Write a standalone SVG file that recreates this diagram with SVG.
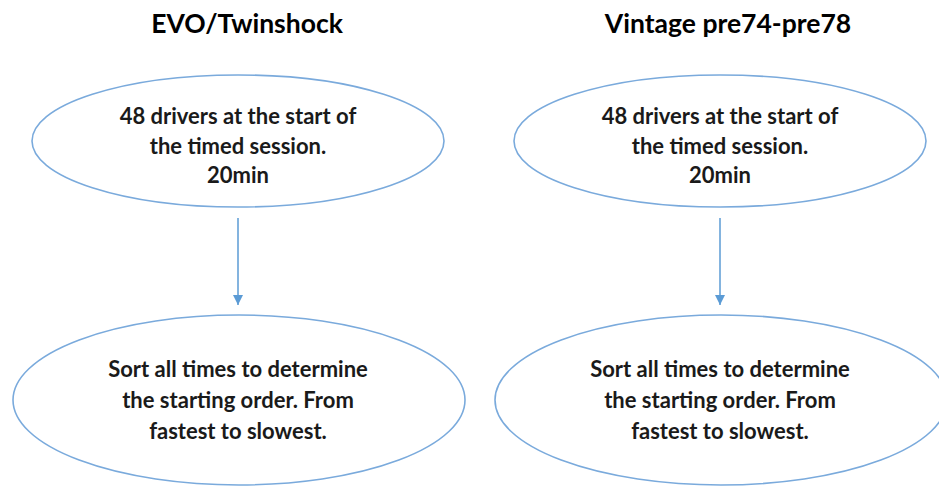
<svg xmlns="http://www.w3.org/2000/svg" width="939" height="486" viewBox="0 0 939 486">
<defs>
<marker id="ah" viewBox="0 0 10 10" refX="10" refY="5" markerWidth="10" markerHeight="10" markerUnits="userSpaceOnUse" orient="auto">
<path d="M0,0 L10,5 L0,10 z" fill="#5b9bd5"/>
</marker>
<style>
.node{fill:#ffffff;stroke:#7aaadc;stroke-width:1.6}
.t{font-family:Lato,"Liberation Sans",sans-serif;font-weight:bold;font-size:22px;fill:#1a1a1a;text-anchor:middle}
.title{font-family:Lato,"Liberation Sans",sans-serif;font-weight:bold;font-size:26.5px;fill:#000000;text-anchor:middle}
.conn{stroke:#5b9bd5;stroke-width:1.5;fill:none}
</style>
</defs>
<rect width="939" height="486" fill="#ffffff"/>
<text class="title" x="247" y="33">EVO/Twinshock</text>
<text class="title" x="728" y="33">Vintage pre74-pre78</text>
<g id="connectors">
<line class="conn" x1="238" y1="218" x2="238" y2="305" marker-end="url(#ah)"/>
<line class="conn" x1="720" y1="218" x2="720" y2="305" marker-end="url(#ah)"/>
</g>
<g id="evo-start">
<ellipse class="node" cx="238" cy="141" rx="206" ry="66"/>
<text class="t" x="238" y="124">48 drivers at the start of</text>
<text class="t" x="238" y="154">the timed session.</text>
<text class="t" x="238" y="183">20min</text>
</g>
<g id="evo-sort">
<ellipse class="node" cx="239" cy="400" rx="226" ry="85"/>
<text class="t" x="238" y="377">Sort all times to determine</text>
<text class="t" x="238" y="408">the starting order. From</text>
<text class="t" x="238" y="439">fastest to slowest.</text>
</g>
<g id="vintage-start">
<ellipse class="node" cx="720" cy="141" rx="206" ry="66"/>
<text class="t" x="720" y="124">48 drivers at the start of</text>
<text class="t" x="720" y="154">the timed session.</text>
<text class="t" x="720" y="183">20min</text>
</g>
<g id="vintage-sort">
<ellipse class="node" cx="721" cy="400" rx="226" ry="85"/>
<text class="t" x="720" y="377">Sort all times to determine</text>
<text class="t" x="720" y="408">the starting order. From</text>
<text class="t" x="720" y="439">fastest to slowest.</text>
</g>
</svg>
